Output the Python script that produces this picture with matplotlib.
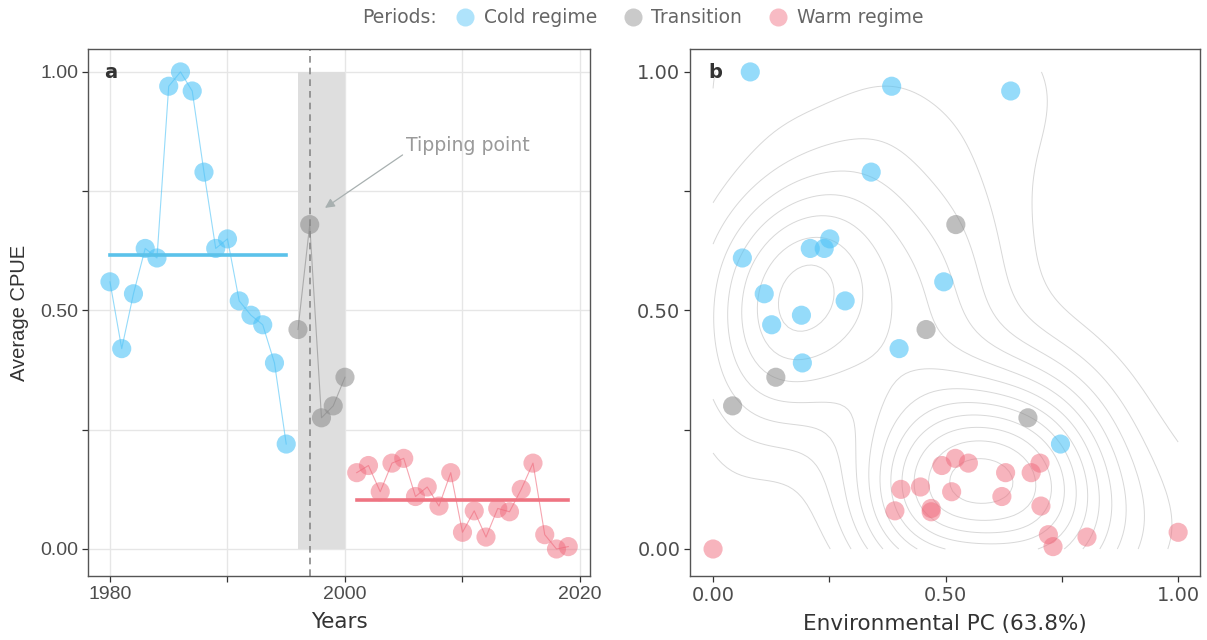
import numpy as np
import matplotlib
matplotlib.use("Agg")
import matplotlib.pyplot as plt
from matplotlib.lines import Line2D

# ---- data ----
years = np.arange(1980, 2020)
cpue = [0.56, 0.42, 0.535, 0.63, 0.61, 0.97, 1.00, 0.96, 0.79, 0.63,
        0.65, 0.52, 0.49, 0.47, 0.39, 0.22,
        0.46, 0.68, 0.275, 0.30, 0.36,
        0.16, 0.175, 0.12, 0.18, 0.19, 0.11, 0.13, 0.09, 0.16, 0.035,
        0.08, 0.025, 0.085, 0.078, 0.125, 0.18, 0.03, 0.0, 0.005]
env_pc = [0.496, 0.40, 0.11, 0.209, 0.063, 0.384, 0.08, 0.64, 0.34, 0.239,
          0.251, 0.284, 0.19, 0.126, 0.192, 0.747,
          0.458, 0.522, 0.677, 0.042, 0.135,
          0.629, 0.492, 0.513, 0.549, 0.521, 0.621, 0.446, 0.705, 0.684, 1.0,
          0.391, 0.804, 0.469, 0.469, 0.404, 0.703, 0.721, 0.0, 0.731]
period = ["Cold regime"] * 16 + ["Transition"] * 5 + ["Warm regime"] * 19
period_names = ["Cold regime", "Transition", "Warm regime"]
tipping_year = 1997
transition_span = (1996, 2000)

cpue = np.array(cpue)
env_pc = np.array(env_pc)
period = np.array(period)

cols = {"Cold regime": "#4fc3f7", "Transition": "#8a8a8a", "Warm regime": "#f06a7c"}
mean_cols = {"Cold regime": "#5bc2ea", "Warm regime": "#ee7482"}
alph = {"Cold regime": 0.6, "Transition": 0.55, "Warm regime": 0.5}


# 2d kde like MASS::kde2d with bandwidth.nrd
def bw_nrd(x):
    r = np.percentile(x, [25, 75])
    h = (r[1] - r[0]) / 1.34
    return 4 * 1.06 * min(np.std(x, ddof=1), h) * len(x) ** (-0.2)


def kde2d(x, y, n=100):
    gx = np.linspace(x.min(), x.max(), n)
    gy = np.linspace(y.min(), y.max(), n)
    hx = bw_nrd(x) / 4
    hy = bw_nrd(y) / 4
    ax = (gx[:, None] - x[None, :]) / hx
    ay = (gy[:, None] - y[None, :]) / hy
    dx = np.exp(-0.5 * ax ** 2) / np.sqrt(2 * np.pi)
    dy = np.exp(-0.5 * ay ** 2) / np.sqrt(2 * np.pi)
    z = dx @ dy.T / (len(x) * hx * hy)
    return gx, gy, z


def pretty(lo, hi, n=10):
    cell = (hi - lo) / n
    U = 10 ** np.floor(np.log10(cell))
    unit = U
    if 2 * U - cell < 1.5 * (cell - unit):
        unit = 2 * U
        if 5 * U - cell < 2.75 * (cell - unit):
            unit = 5 * U
            if 10 * U - cell < 1.5 * (cell - unit):
                unit = 10 * U
    return np.arange(np.floor(lo / unit), np.ceil(hi / unit) + 1) * unit


plt.rcParams['font.family'] = ['DejaVu Sans']
fig = plt.figure(figsize=(12.07, 6.40), dpi=100)
axa = fig.add_axes([0.0729, 0.10, 0.4159, 0.8234])
axb = fig.add_axes([0.5717, 0.10, 0.4225, 0.8234])

spine_col = "#555555"
for ax in (axa, axb):
    for s in ax.spines.values():
        s.set_color(spine_col)
        s.set_linewidth(1.0)
    ax.tick_params(length=4, width=0.9, color="#333333", labelcolor="#4d4d4d",
                   labelsize=14, pad=3)
    ax.set_ylim(-0.0566, 1.048)
    ax.set_yticks([0, 0.25, 0.5, 0.75, 1.0])
    ax.set_yticklabels(["0.00", "", "0.50", "", "1.00"])

# ---- panel a ----
axa.set_xlim(1978.13, 2020.85)
axa.set_xticks([1980, 1990, 2000, 2010, 2020])
axa.set_xticklabels(["1980", "", "2000", "", "2020"])
for lab in axa.get_xticklabels() + axa.get_yticklabels():
    lab.set_family("Liberation Sans")
axa.grid(True, color="#e6e6e6", lw=1.0)
axa.set_axisbelow(True)

axa.axvspan(transition_span[0], transition_span[1], ymin=(0 + 0.0566) / 1.1046,
            ymax=(1 + 0.0566) / 1.1046, color="#dedede", lw=0, zorder=1)
axa.axvline(tipping_year, color="#888888", lw=1.2, ls=(0, (4, 3)), zorder=2)

for p in period_names:
    m = period == p
    axa.plot(years[m], cpue[m], color=cols[p], alpha=0.6, lw=0.8, zorder=3)
    axa.scatter(years[m], cpue[m], s=190, color=cols[p], alpha=alph[p],
                edgecolors="none", zorder=4)
    if p in mean_cols:
        axa.plot([years[m].min(), years[m].max()], [cpue[m].mean()] * 2,
                 color=mean_cols[p], lw=2.6, zorder=5)

axa.text(2005.2, 0.845, "Tipping point", color="#9a9a9a", fontsize=13.6,
         va="center", ha="left")
axa.annotate("", xy=(1998.3, 0.715), xytext=(2004.9, 0.826),
             arrowprops=dict(arrowstyle="-|>", color="#a8b0b0", lw=0.9,
                             shrinkA=0, shrinkB=0, mutation_scale=14))
axa.text(0.032, 0.956, "a", transform=axa.transAxes, fontsize=14,
         fontweight="bold", color="#333333", va="center", ha="left")
axa.set_xlabel("Years", fontsize=15.5, color="#333333", labelpad=7)
axa.set_ylabel("Average CPUE", fontsize=14.5, color="#333333", labelpad=8,
               family="Liberation Sans")

# ---- panel b ----
axb.set_xlim(-0.0495, 1.047)
axb.set_xticks([0, 0.25, 0.5, 0.75, 1.0])
axb.set_xticklabels(["0.00", "", "0.50", "", "1.00"])

gx, gy, z = kde2d(env_pc, cpue)
lev = pretty(z.min(), z.max(), 10)
axb.contour(gx, gy, z.T, levels=lev, colors="#d8d8d8", linewidths=0.7, zorder=1)

for p in period_names:
    m = period == p
    axb.scatter(env_pc[m], cpue[m], s=190, color=cols[p], alpha=alph[p],
                edgecolors="none", zorder=4)

axb.text(0.035, 0.956, "b", transform=axb.transAxes, fontsize=14,
         fontweight="bold", color="#333333", va="center", ha="left")
axb.set_xlabel("Environmental PC (63.8%)", fontsize=15.5, color="#333333", labelpad=7)

# ---- legend ----
handles = [Line2D([], [], ls="none", marker="o", markersize=13,
                  markerfacecolor=cols[p], markeredgecolor="none", alpha=0.45)
           for p in period_names]
fig.text(0.362, 0.972, "Periods:", fontsize=13.5, color="#666666", va="center", ha="right")
fig.legend(handles, period_names, loc="center left", bbox_to_anchor=(0.376, 0.972),
           ncol=3, frameon=False, fontsize=13.5, labelcolor="#666666",
           handletextpad=0.4, columnspacing=1.3, handlelength=1.2,
           borderaxespad=0, borderpad=0)

fig.savefig("out.png", dpi=100)
